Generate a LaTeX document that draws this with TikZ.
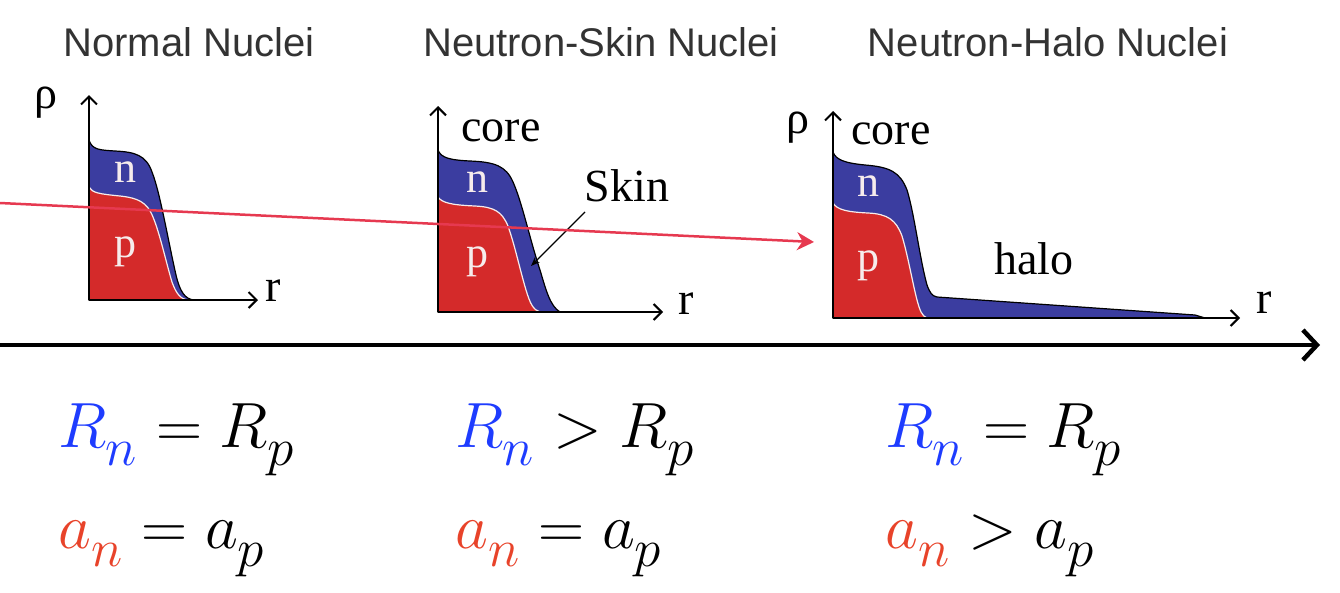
\documentclass[tikz,border=0pt]{standalone}
\usepackage{fontspec}
\usetikzlibrary{arrows.meta}
\newfontfamily\tms{Liberation Serif}
\newfontfamily\hel{Liberation Sans}
\definecolor{nblue}{HTML}{3B3DA0}
\definecolor{pred}{HTML}{D42A2A}
\definecolor{rblue}{HTML}{1E3CFF}
\definecolor{ared}{HTML}{E8432A}
\definecolor{arrowred}{HTML}{E63950}
\definecolor{ttl}{HTML}{333333}
\definecolor{np}{HTML}{F6ECEC}
\newcommand{\bigf}[1]{\scalebox{2.57}{\fontsize{24.88}{30}\selectfont$#1$}}
\newcommand{\lsub}[1]{_{\raisebox{-3.5pt}{$\scriptstyle #1$}}}
\tikzset{
  title/.style={font=\hel\fontsize{40}{40}\selectfont, text=ttl, inner sep=0pt},
  lbl/.style={font=\tms\fontsize{46}{46}\selectfont, inner sep=0pt},
  nplbl/.style={font=\tms\fontsize{44}{44}\selectfont, text=np, inner sep=0pt},
  formula/.style={inner sep=0pt, anchor=base west},
  plotaxis/.style={line width=2pt, -{Straight Barb[length=8pt,width=16pt]}},
  bluefill/.style={fill=nblue, draw=black, line width=1.2pt},
  redfill/.style={fill=pred},
  sep/.style={draw=np, line width=1.2pt},
}
\begin{document}
\begin{tikzpicture}[x=1pt,y=-1pt]
\path[use as bounding box] (0,0) rectangle (1340,592);

% titles
\node[title] (t1) at (189,42) {Normal Nuclei};
\node[title] (t2) at (601,42) {Neutron-Skin Nuclei};
\node[title] (t3) at (1048,42) {Neutron-Halo Nuclei};

% ---------- panel 1 ----------
\fill[bluefill] (89,140) .. controls (92,150) and (100,150) .. (115,151)
  .. controls (135,152) and (146,155) .. (152,172)
  .. controls (160,192) and (168,240) .. (176,275)
  .. controls (180,292) and (185,299) .. (194,300) -- (89,300) -- cycle;
\fill[redfill] (89,187) .. controls (92,193) and (100,194) .. (120,196)
  .. controls (138,198) and (147,202) .. (153,217)
  .. controls (160,234) and (166,262) .. (172,282)
  .. controls (176,293) and (180,299) .. (188,300) -- (89,300) -- cycle;
\draw[sep] (89,187) .. controls (92,193) and (100,194) .. (120,196)
  .. controls (138,198) and (147,202) .. (153,217)
  .. controls (160,234) and (166,262) .. (172,282)
  .. controls (176,293) and (180,299) .. (188,300);
\coordinate (o1) at (89,300);
\coordinate (y1) at (89,95);
\coordinate (x1) at (258,300);
\draw[plotaxis] (o1) -- (y1);
\draw[plotaxis] (o1) -- (x1);
\node[lbl] (rho1) at (46,103) {ρ};
\node[lbl] (r1) at (273,291) {r};
\node[nplbl] (n1) at (125,172) {n};
\node[nplbl] (p1) at (125,252) {p};

% ---------- panel 2 ----------
\fill[bluefill] (438,150) .. controls (441,158) and (450,160) .. (470,161)
  .. controls (495,162) and (506,166) .. (513,182)
  .. controls (522,202) and (530,240) .. (540,270)
  .. controls (546,290) and (550,306) .. (560,312) -- (438,312) -- cycle;
\fill[redfill] (438,197) .. controls (442,203) and (452,205) .. (475,206)
  .. controls (495,207) and (502,212) .. (508,226)
  .. controls (515,246) and (520,270) .. (526,290)
  .. controls (530,303) and (533,310) .. (540,312) -- (438,312) -- cycle;
\draw[sep] (438,197) .. controls (442,203) and (452,205) .. (475,206)
  .. controls (495,207) and (502,212) .. (508,226)
  .. controls (515,246) and (520,270) .. (526,290)
  .. controls (530,303) and (533,310) .. (540,312);
\coordinate (o2) at (438,312);
\coordinate (y2) at (438,106);
\coordinate (x2) at (663,312);
\draw[plotaxis] (o2) -- (y2);
\draw[plotaxis] (o2) -- (x2);
\node[lbl] (core2) at (501,131) {core};
\node[lbl] (skin) at (627,186) {Skin};
\coordinate (skinstart) at (585,212);
\coordinate (skintip) at (531,266);
\draw[line width=1.3pt, -{Stealth[length=9pt,width=7pt]}] (skinstart) -- (skintip);
\node[lbl] (r2) at (686,304) {r};
\node[nplbl] (n2) at (477,182) {n};
\node[nplbl] (p2) at (477,262) {p};

% ---------- panel 3 ----------
\fill[bluefill] (833,152) .. controls (836,160) and (845,163) .. (865,165)
  .. controls (890,167) and (900,172) .. (907,190)
  .. controls (914,212) and (920,260) .. (927,285)
  .. controls (930,293) and (932,296) .. (937,297)
  -- (1195,315) -- (1205,318) -- (833,318) -- cycle;
\fill[redfill] (833,203) .. controls (837,210) and (848,212) .. (868,213)
  .. controls (888,214) and (896,220) .. (902,236)
  .. controls (908,256) and (913,285) .. (917,300)
  .. controls (920,311) and (922,316) .. (927,318) -- (833,318) -- cycle;
\draw[sep] (833,203) .. controls (837,210) and (848,212) .. (868,213)
  .. controls (888,214) and (896,220) .. (902,236)
  .. controls (908,256) and (913,285) .. (917,300)
  .. controls (920,311) and (922,316) .. (927,318);
\coordinate (o3) at (833,318);
\coordinate (y3) at (833,111);
\coordinate (x3) at (1240,318);
\draw[plotaxis] (o3) -- (y3);
\draw[plotaxis] (o3) -- (x3);
\node[lbl] (rho3) at (798,128) {ρ};
\node[lbl] (core3) at (891,134) {core};
\node[lbl] (halo) at (1034,259) {halo};
\node[lbl] (r3) at (1264,303) {r};
\node[nplbl] (n3) at (868,186) {n};
\node[nplbl] (p3) at (868,266) {p};

% main axis
\coordinate (ma) at (0,345);
\coordinate (mb) at (1320,345);
\draw[line width=4.5pt, -{Straight Barb[length=14pt,width=30pt,line width=4.5pt]}] (ma) -- (mb);

% red arrow
\coordinate (ra) at (0,203);
\coordinate (rb) at (814,242);
\draw[arrowred, line width=2.5pt, -{Stealth[length=17pt,width=18pt]}] (ra) -- (rb);

% formulas
\node[formula] (f1a) at (58,447) {\bigf{\textcolor{rblue}{R\lsub{n}} = R\lsub{p}}};
\node[formula] (f1b) at (58,548) {\bigf{\textcolor{ared}{a\lsub{n}} = a\lsub{p}}};
\node[formula] (f2a) at (455,447) {\bigf{\textcolor{rblue}{R\lsub{n}} > R\lsub{p}}};
\node[formula] (f2b) at (455,548) {\bigf{\textcolor{ared}{a\lsub{n}} = a\lsub{p}}};
\node[formula] (f3a) at (885,447) {\bigf{\textcolor{rblue}{R\lsub{n}} = R\lsub{p}}};
\node[formula] (f3b) at (885,548) {\bigf{\textcolor{ared}{a\lsub{n}} > a\lsub{p}}};
\end{tikzpicture}
\end{document}
